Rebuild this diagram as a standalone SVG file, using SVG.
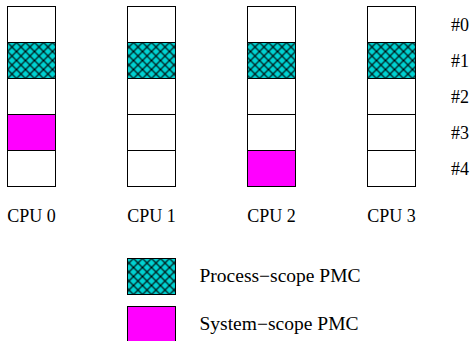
<svg xmlns="http://www.w3.org/2000/svg" width="473" height="341" viewBox="0 0 473 341">
<style>
text{font-family:"Liberation Serif","Times New Roman",serif;font-size:18px;fill:#000}
.cell{fill:#fff;stroke:#000;stroke-width:1}
.proc{fill:url(#hatch);stroke:#000;stroke-width:1}
.sys{fill:#ff00ff;stroke:#000;stroke-width:1}
.lbl{text-anchor:middle}
</style>
<defs>
<pattern id="hatch" patternUnits="userSpaceOnUse" x="7.5" y="6.5" width="9" height="9">
<rect width="9" height="9" fill="#00d2d2"/>
<path d="M-1,-1 L10,10 M-1,10 L10,-1" stroke="#000" stroke-width="1.2" fill="none"/>
</pattern>
</defs>
<g id="cpu0">
<rect class="cell" x="7.5" y="6.5" width="48" height="36"/>
<rect class="proc" x="7.5" y="42.5" width="48" height="36"/>
<rect class="cell" x="7.5" y="78.5" width="48" height="36"/>
<rect class="sys" x="7.5" y="114.5" width="48" height="36"/>
<rect class="cell" x="7.5" y="150.5" width="48" height="36"/>
<text class="lbl" x="31.5" y="222">CPU 0</text>
</g>
<g id="cpu1">
<rect class="cell" x="127.5" y="6.5" width="48" height="36"/>
<rect class="proc" x="127.5" y="42.5" width="48" height="36"/>
<rect class="cell" x="127.5" y="78.5" width="48" height="36"/>
<rect class="cell" x="127.5" y="114.5" width="48" height="36"/>
<rect class="cell" x="127.5" y="150.5" width="48" height="36"/>
<text class="lbl" x="151.5" y="222">CPU 1</text>
</g>
<g id="cpu2">
<rect class="cell" x="247.5" y="6.5" width="48" height="36"/>
<rect class="proc" x="247.5" y="42.5" width="48" height="36"/>
<rect class="cell" x="247.5" y="78.5" width="48" height="36"/>
<rect class="cell" x="247.5" y="114.5" width="48" height="36"/>
<rect class="sys" x="247.5" y="150.5" width="48" height="36"/>
<text class="lbl" x="271.5" y="222">CPU 2</text>
</g>
<g id="cpu3">
<rect class="cell" x="367.5" y="6.5" width="48" height="36"/>
<rect class="proc" x="367.5" y="42.5" width="48" height="36"/>
<rect class="cell" x="367.5" y="78.5" width="48" height="36"/>
<rect class="cell" x="367.5" y="114.5" width="48" height="36"/>
<rect class="cell" x="367.5" y="150.5" width="48" height="36"/>
<text class="lbl" x="391.5" y="222">CPU 3</text>
</g>
<g id="row-labels">
<text x="451" y="31">#0</text>
<text x="451" y="67">#1</text>
<text x="451" y="103">#2</text>
<text x="451" y="139">#3</text>
<text x="451" y="175">#4</text>
</g>
<g id="legend-process">
<rect class="proc" x="127.5" y="258.5" width="48" height="36"/>
<text x="199.5" y="282" textLength="161" lengthAdjust="spacingAndGlyphs">Process−scope PMC</text>
</g>
<g id="legend-system">
<rect class="sys" x="127.5" y="306.5" width="48" height="36"/>
<text x="199.5" y="330" textLength="159" lengthAdjust="spacingAndGlyphs">System−scope PMC</text>
</g>
<g id="connectors"/>
</svg>
